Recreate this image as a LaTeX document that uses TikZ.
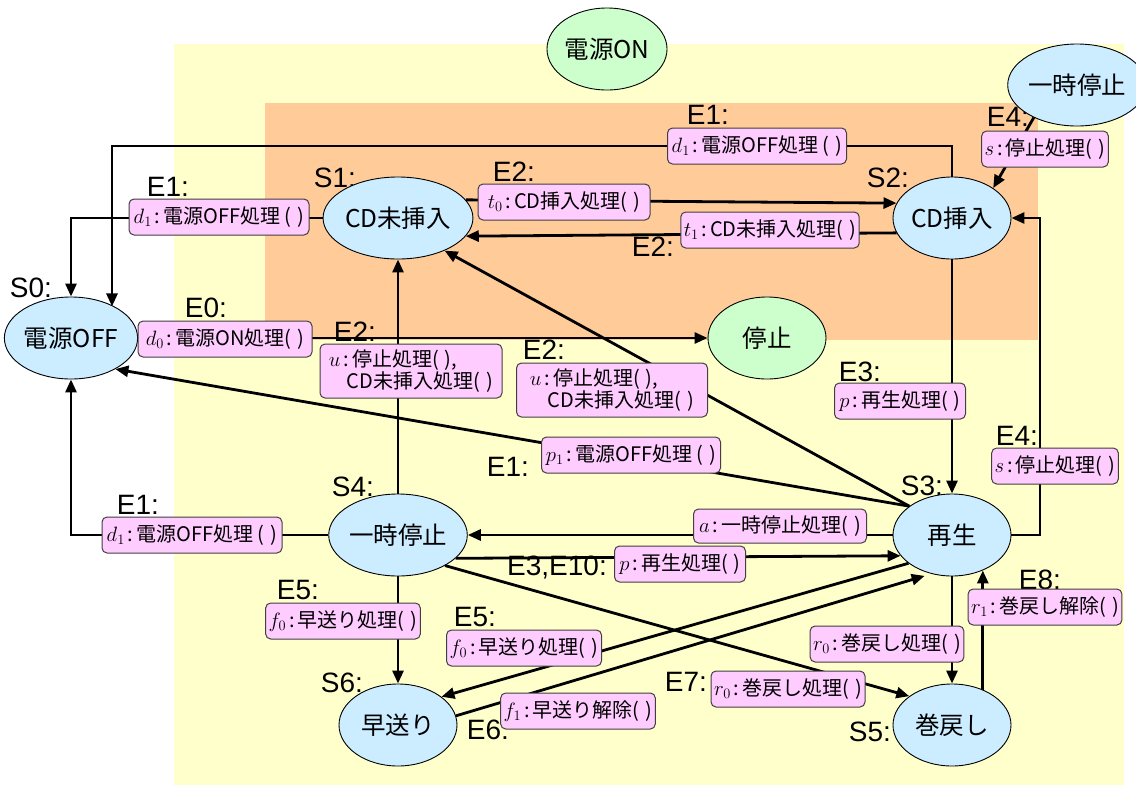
\documentclass[tikz,border=0pt]{standalone}
\usepackage{fontspec}
\newfontfamily\jpfont{Noto Sans CJK JP}
\newfontfamily\arialfont{Liberation Sans}
\usetikzlibrary{shapes.geometric,arrows.meta}
\pgfdeclarelayer{bg}
\pgfdeclarelayer{lines}
\pgfsetlayers{bg,lines,main}
\definecolor{bgyellow}{HTML}{FFFFCC}
\definecolor{bgorange}{HTML}{FFCC99}
\definecolor{stblue}{HTML}{CCECFF}
\definecolor{stgreen}{HTML}{CCFFCC}
\definecolor{lblpink}{HTML}{FFCCFF}
\definecolor{lblborder}{HTML}{404040}
\newcommand\parpair{(\kern0.3em)}
\newcommand\cln{\kern3pt:\kern3pt}
\begin{document}
\begin{tikzpicture}[x=1pt,y=-1pt,
  state/.style={ellipse, draw=black, line width=0.9pt, fill=stblue,
    minimum width=118pt, minimum height=82pt, inner sep=0pt,
    font=\jpfont\fontsize{24.5}{28}\selectfont},
  gstate/.style={state, fill=stgreen},
  lbl/.style={draw=lblborder, line width=1pt, fill=lblpink, rounded corners=5pt,
    minimum height=36pt, inner xsep=3pt, inner ysep=2pt,
    font=\jpfont\fontsize{20}{22}\selectfont},
  ev/.style={font=\arialfont\fontsize{28}{30}\selectfont, inner sep=0pt},
  conn/.style={line width=2.8pt, draw=black},
  arr/.style={conn, -{Triangle[length=13pt,width=11pt]}},
]
\useasboundingbox (0,0) rectangle (1136,785);
\begin{pgfonlayer}{bg}
  \fill[white] (0,0) rectangle (1136,785);
  \fill[bgyellow] (174,44) rectangle (1124,785);
  \fill[bgorange] (265,103) rectangle (1038,340);
\end{pgfonlayer}

% event / state labels
\node[ev] (lS0) at (31,288) {S0:};
\node[ev] (lS1) at (335,178) {S1:};
\node[ev] (lS2) at (888,178) {S2:};
\node[ev] (lS3) at (922,486) {S3:};
\node[ev] (lS4) at (353,487) {S4:};
\node[ev] (lS5) at (870,732) {S5:};
\node[ev] (lS6) at (342,683) {S6:};

\node[ev] (eA) at (708,115) {E1:};
\node[ev] (eB) at (168,187) {E1:};
\node[ev] (eC) at (514,172) {E2:};
\node[ev] (eD) at (653,247) {E2:};
\node[ev] (eE) at (206,308) {E0:};
\node[ev] (eF) at (355,332) {E2:};
\node[ev] (eG) at (544,350) {E2:};
\node[ev] (eH) at (508,467) {E1:};
\node[ev] (eI) at (138,505) {E1:};
\node[ev] (eJ) at (557,568) {E3,E10:};
\node[ev] (eK) at (298,590) {E5:};
\node[ev] (eL) at (475,617) {E5:};
\node[ev] (eM) at (488,730) {E6:};
\node[ev] (eN) at (686,682) {E7:};
\node[ev] (eO) at (860,372) {E3:};
\node[ev] (eP) at (1017,436) {E4:};
\node[ev] (eQ) at (1008,117) {E4:};
\node[ev] (eR) at (1040,580) {E8:};

% states
\node[gstate] (ON) at (607,49) {電源ON};
\node[state] (P2) at (1077,85) {一時停止};
\node[state] (S0) at (71,338) {電源OFF};
\node[state] (S1) at (398,218) {CD未挿入};
\node[state] (S2) at (952,218) {CD挿入};
\node[gstate] (ST) at (767,338) {停止};
\node[state] (S3) at (952,535) {再生};
\node[state] (S4) at (398,535) {一時停止};
\node[state] (S5) at (952,725) {巻戻し};
\node[state] (S6) at (398,725) {早送り};

% action boxes
\node[lbl, minimum width=179pt] (bA) at (757,146) {$d_1$\cln 電源OFF処理 \parpair};
\node[lbl, minimum width=180pt] (bB) at (219,217) {$d_1$\cln 電源OFF処理 \parpair};
\node[lbl, minimum width=172pt] (bC) at (564,202) {$t_0$\cln CD挿入処理\parpair};
\node[lbl, minimum width=173pt] (bD) at (770,230) {$t_1$\cln CD未挿入処理\parpair};
\node[lbl, minimum width=174pt] (bE) at (225,339) {$d_0$\cln 電源ON処理\parpair};
\node[lbl, minimum width=182pt, minimum height=54pt, align=left] (bF) at (411,371)
  {$u$\cln 停止処理\parpair,\\\hspace*{0.9em}CD未挿入処理\parpair};
\node[lbl, minimum width=191pt, minimum height=54pt, align=left] (bG) at (612,390)
  {$u$\cln 停止処理\parpair,\\\hspace*{0.9em}CD未挿入処理\parpair};
\node[lbl, minimum width=179pt] (bH) at (631,455) {$p_1$\cln 電源OFF処理 \parpair};
\node[lbl, minimum width=180pt] (bI) at (192,535) {$d_1$\cln 電源OFF処理 \parpair};
\node[lbl, minimum width=173pt, minimum height=34pt] (bJ) at (780,526) {$a$\cln 一時停止処理\parpair};
\node[lbl, minimum width=131pt] (bK) at (680,564) {$p$\cln 再生処理\parpair};
\node[lbl, minimum width=154pt] (bL) at (343,621) {$f_0$\cln 早送り処理\parpair};
\node[lbl, minimum width=155pt] (bM) at (524,648) {$f_0$\cln 早送り処理\parpair};
\node[lbl, minimum width=144pt] (bN) at (578,711) {$f_1$\cln 早送り解除\parpair};
\node[lbl, minimum width=154pt] (bO) at (788,689) {$r_0$\cln 巻戻し処理\parpair};
\node[lbl, minimum width=131pt] (bP) at (900,401) {$p$\cln 再生処理\parpair};
\node[lbl, minimum width=124pt] (bQ) at (1055,466) {$s$\cln 停止処理\parpair};
\node[lbl, minimum width=124pt] (bR) at (1045,149) {$s$\cln 停止処理\parpair};
\node[lbl, minimum width=151pt] (bS) at (1045,607) {$r_1$\cln 巻戻し解除\parpair};
\node[lbl, minimum width=153pt] (bT) at (887,644) {$r_0$\cln 巻戻し処理\parpair};

\coordinate (c1) at (112,146);
\coordinate (c4) at (1040,400);

\begin{pgfonlayer}{lines}
  \draw[arr] (S2.north) |- (c1) -- (c1 |- S0.36);
  \draw[arr] (S1.west) -| (S0.north);
  \draw[arr] (S4.west) -| (S0.south);
  \draw[arr] (S0.east) -- (ST.west);
  \draw[arr] (S1.15) -- (S2.165);
  \draw[arr] (S2.195) -- (S1.345);
  \draw[arr] (S4.north) -- (S1.south);
  \draw[arr] (S3.146) -- (S1.-35);
  \draw[arr] (S3.146) -- (S0.-35);
  \draw[arr] (S3.west) -- (S4.east);
  \draw[arr] (S4.-22.5) -- (S3.202.5);
  \draw[arr] (S4.south) -- (S6.north);
  \draw[arr] (S3.213.7) -- (S6.33.7);
  \draw[arr, shorten >=7pt] (S6.9) -- (S3.242);
  \draw[arr] (S4.-33.7) -- (S5.146.3);
  \draw[arr] (S2.south) -- (S3.north);
  \draw[arr] (S3.south) -- (S5.north);
  \draw[arr] (S5.49.6) -- (S3.-49.6);
  \draw[arr] (S3.east) -- (S3.east -| c4) -- (S2.east -| c4) -- (S2.east);
  \draw[arr] (P2.217) -- (S2.36);
\end{pgfonlayer}
\end{tikzpicture}
\end{document}
